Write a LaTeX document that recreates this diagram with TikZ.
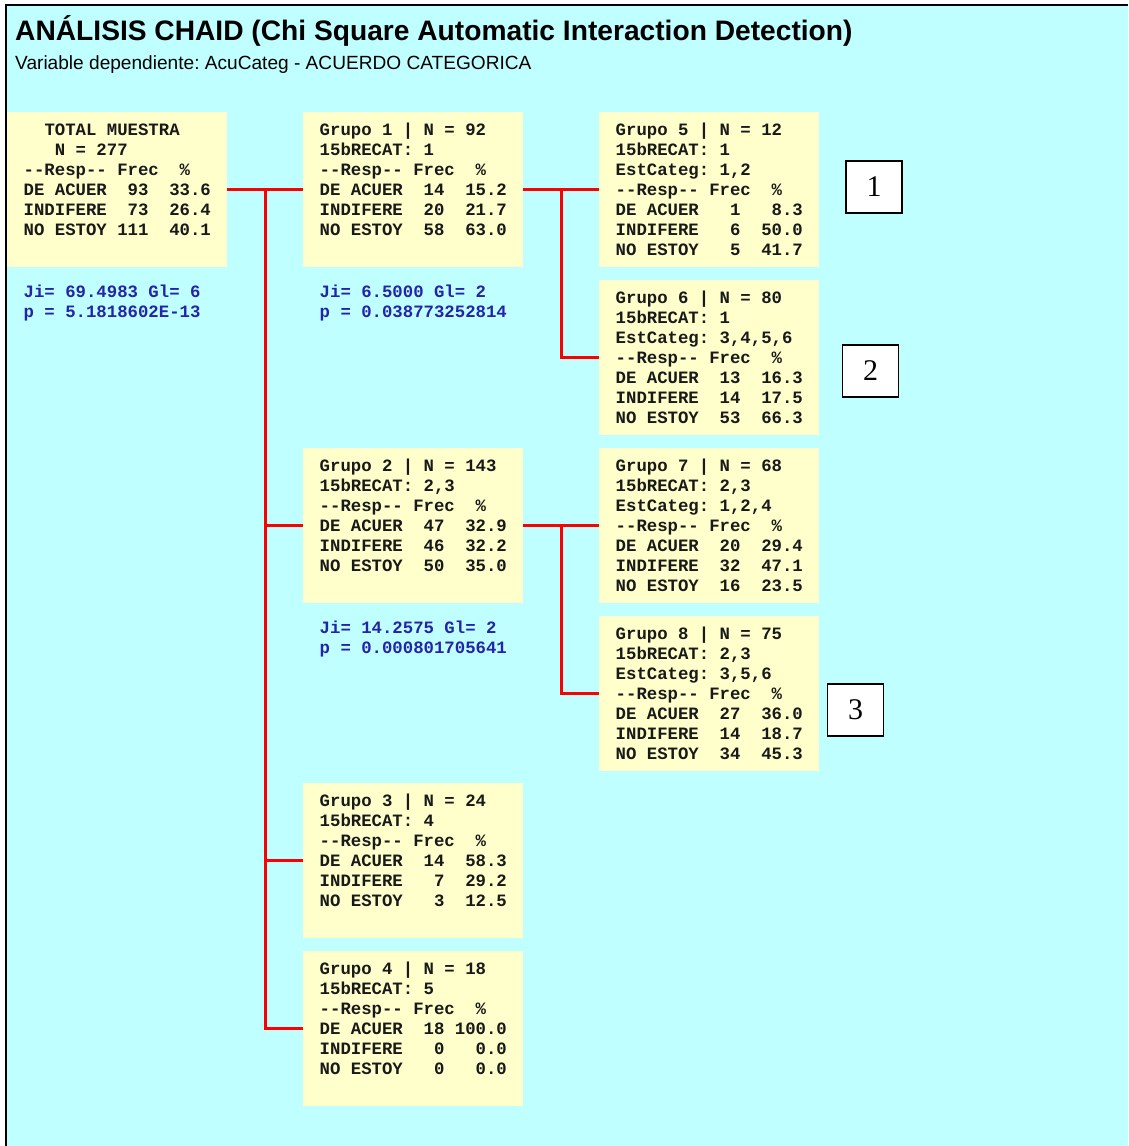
\documentclass[tikz,border=0pt]{standalone}
\usepackage{fontspec}
\setmainfont{Liberation Serif}
\newfontfamily\arialf{Liberation Sans}
\newfontfamily\monof{Liberation Mono}
\usetikzlibrary{calc}
\frenchspacing
\definecolor{bgcyan}{RGB}{192,255,255}
\definecolor{boxyel}{RGB}{255,255,204}
\definecolor{statblue}{RGB}{36,36,168}
\definecolor{linered}{RGB}{255,0,0}
\definecolor{boxtxt}{RGB}{25,25,25}
\tikzset{
  grp/.style={fill=boxyel, minimum width=220, minimum height=155, inner sep=0, anchor=north west},
  mono/.style={font=\monof\bfseries\fontsize{17.33}{20}\selectfont, text=boxtxt, anchor=north west, inner sep=0, align=left},
  stat/.style={mono, text=statblue},
  redln/.style={draw=linered, line width=2.6},
  numbox/.style={draw=black, line width=1.8, fill=white, minimum width=56, minimum height=52, inner sep=0, font=\fontsize{30}{36}\selectfont},
  titlef/.style={font=\arialf\bfseries\fontsize{28.17}{32}\selectfont, anchor=base west, inner sep=0},
  subf/.style={font=\arialf\fontsize{19.1}{23}\selectfont, anchor=base west, inner sep=0}
}
\newcommand{\sr}{\strut}
\begin{document}
\begin{tikzpicture}[x=1pt,y=-1pt]
\useasboundingbox (0,0) rectangle (1128,1146);
\fill[bgcyan] (5,4) rectangle (1128,1146);
\draw[black, line width=2] (6,1146) -- (6,5) -- (1128,5);

\node[titlef] (title) at (15,40) {ANÁLISIS CHAID (Chi Square Automatic Interaction Detection)};
\node[subf] (subtitle) at (15,69.5) {Variable dependiente: AcuCateg - ACUERDO CATEGORICA};

% boxes
\node[grp] (tot) at (7,112) {};
\node[grp] (g1) at (303,112) {};
\node[grp] (g5) at (599,112) {};
\node[grp] (g6) at (599,280) {};
\node[grp] (g2) at (303,448) {};
\node[grp] (g7) at (599,448) {};
\node[grp] (g8) at (599,616) {};
\node[grp] (g3) at (303,783) {};
\node[grp] (g4) at (303,951) {};

% box texts
\node[mono] (tott) at ([shift={(16.5,9.5)}]tot.north west) {\sr~~TOTAL~MUESTRA\\\sr~~~N~=~277\\\sr-{}-Resp-{}-~Frec~~\%\\\sr DE~ACUER~~93~~33.6\\\sr INDIFERE~~73~~26.4\\\sr NO~ESTOY~111~~40.1};
\node[mono] (g1t) at ([shift={(16.5,9.5)}]g1.north west) {\sr Grupo~1~|~N~=~92\\\sr 15bRECAT:~1\\\sr-{}-Resp-{}-~Frec~~\%\\\sr DE~ACUER~~14~~15.2\\\sr INDIFERE~~20~~21.7\\\sr NO~ESTOY~~58~~63.0};
\node[mono] (g5t) at ([shift={(16.5,9.5)}]g5.north west) {\sr Grupo~5~|~N~=~12\\\sr 15bRECAT:~1\\\sr EstCateg:~1,2\\\sr-{}-Resp-{}-~Frec~~\%\\\sr DE~ACUER~~~1~~~8.3\\\sr INDIFERE~~~6~~50.0\\\sr NO~ESTOY~~~5~~41.7};
\node[mono] (g6t) at ([shift={(16.5,9.5)}]g6.north west) {\sr Grupo~6~|~N~=~80\\\sr 15bRECAT:~1\\\sr EstCateg:~3,4,5,6\\\sr-{}-Resp-{}-~Frec~~\%\\\sr DE~ACUER~~13~~16.3\\\sr INDIFERE~~14~~17.5\\\sr NO~ESTOY~~53~~66.3};
\node[mono] (g2t) at ([shift={(16.5,9.5)}]g2.north west) {\sr Grupo~2~|~N~=~143\\\sr 15bRECAT:~2,3\\\sr-{}-Resp-{}-~Frec~~\%\\\sr DE~ACUER~~47~~32.9\\\sr INDIFERE~~46~~32.2\\\sr NO~ESTOY~~50~~35.0};
\node[mono] (g7t) at ([shift={(16.5,9.5)}]g7.north west) {\sr Grupo~7~|~N~=~68\\\sr 15bRECAT:~2,3\\\sr EstCateg:~1,2,4\\\sr-{}-Resp-{}-~Frec~~\%\\\sr DE~ACUER~~20~~29.4\\\sr INDIFERE~~32~~47.1\\\sr NO~ESTOY~~16~~23.5};
\node[mono] (g8t) at ([shift={(16.5,9.5)}]g8.north west) {\sr Grupo~8~|~N~=~75\\\sr 15bRECAT:~2,3\\\sr EstCateg:~3,5,6\\\sr-{}-Resp-{}-~Frec~~\%\\\sr DE~ACUER~~27~~36.0\\\sr INDIFERE~~14~~18.7\\\sr NO~ESTOY~~34~~45.3};
\node[mono] (g3t) at ([shift={(16.5,9.5)}]g3.north west) {\sr Grupo~3~|~N~=~24\\\sr 15bRECAT:~4\\\sr-{}-Resp-{}-~Frec~~\%\\\sr DE~ACUER~~14~~58.3\\\sr INDIFERE~~~7~~29.2\\\sr NO~ESTOY~~~3~~12.5};
\node[mono] (g4t) at ([shift={(16.5,9.5)}]g4.north west) {\sr Grupo~4~|~N~=~18\\\sr 15bRECAT:~5\\\sr-{}-Resp-{}-~Frec~~\%\\\sr DE~ACUER~~18~100.0\\\sr INDIFERE~~~0~~~0.0\\\sr NO~ESTOY~~~0~~~0.0};

% statistics
\node[stat] (tots) at ([shift={(16.5,15.5)}]tot.south west) {\sr Ji=~69.4983~Gl=~6\\\sr p~=~5.1818602E-13};
\node[stat] (g1s) at ([shift={(16.5,15.5)}]g1.south west) {\sr Ji=~6.5000~Gl=~2\\\sr p~=~0.038773252814};
\node[stat] (g2s) at ([shift={(16.5,15.5)}]g2.south west) {\sr Ji=~14.2575~Gl=~2\\\sr p~=~0.000801705641};

% connectors
\coordinate (t1) at ($(tot.east)!0.5!(g1.west)$);
\draw[redln] (tot.east) -- (g1.west);
\draw[redln] (t1) |- (g4.west);
\draw[redln] (t1 |- g2.west) -- (g2.west);
\draw[redln] (t1 |- g3.west) -- (g3.west);

\coordinate (t2) at ($(g1.east)!0.5!(g5.west)$);
\draw[redln] (g1.east) -- (g5.west);
\draw[redln] (t2) |- (g6.west);

\coordinate (t3) at ($(g2.east)!0.5!(g7.west)$);
\draw[redln] (g2.east) -- (g7.west);
\draw[redln] (t3) |- (g8.west);

% numbered boxes
\node[numbox] (n1) at (874,187) {1};
\node[numbox] (n2) at (870.5,371) {2};
\node[numbox] (n3) at (855.5,710) {3};
\end{tikzpicture}
\end{document}
